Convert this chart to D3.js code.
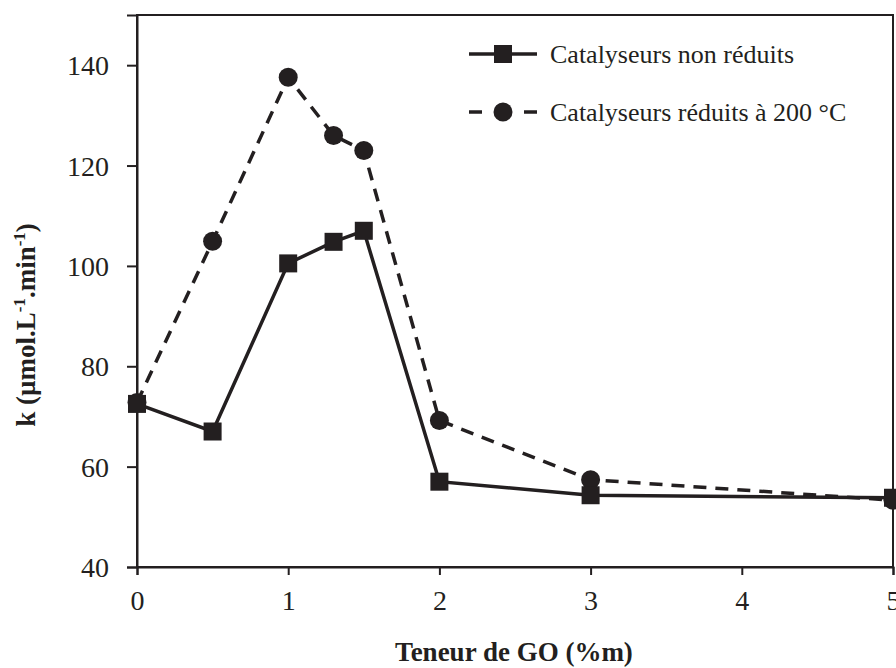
<!DOCTYPE html>
<html>
<head>
<meta charset="utf-8">
<script src="https://cdn.jsdelivr.net/npm/d3@7"></script>
<style>
  html, body { margin: 0; padding: 0; background: #fff; }
  svg { display: block; }
  text { font-family: "Liberation Serif", "Times New Roman", serif; fill: #231f20; }
</style>
</head>
<body>
<script>
// GO content (%m) and rate constants k (µmol.L-1.min-1)
const goContent = [0, 0.5, 1, 1.3, 1.5, 2, 3, 5];
const kNonReduced = [72.5, 67, 100.5, 104.8, 107, 57, 54.3, 53.8];
const kReduced200 = [72.8, 104.9, 137.6, 126, 123, 69.2, 57.4, 53.3];
const seriesNames = ["Catalyseurs non réduits", "Catalyseurs réduits à 200 °C"];
const xTicks = [0, 1, 2, 3, 4, 5];
const yTicks = [40, 60, 80, 100, 120, 140];

const W = 896, H = 668;
const ink = "#231f20";
const plot = { left: 137, right: 893, top: 15, bottom: 567 };

const svg = d3.select("body").append("svg").attr("width", W).attr("height", H);

const x = d3.scaleLinear().domain([0, 5]).range([plot.left, plot.right]);
const y = d3.scaleLinear().domain([40, 150]).range([plot.bottom, plot.top]);

// Frame around the plot area
svg.append("rect")
  .attr("x", plot.left).attr("y", plot.top)
  .attr("width", plot.right - plot.left).attr("height", plot.bottom - plot.top)
  .attr("fill", "none").attr("stroke", ink).attr("stroke-width", 2);

// Axes
const yAxis = svg.append("g")
  .attr("transform", `translate(${plot.left},0)`)
  .call(d3.axisLeft(y).tickValues(yTicks).tickFormat(d3.format("d")).tickSize(10).tickPadding(18));
const xAxis = svg.append("g")
  .attr("transform", `translate(0,${plot.bottom})`)
  .call(d3.axisBottom(x).tickValues(xTicks).tickFormat(d3.format("d")).tickSize(8).tickPadding(15));

[xAxis, yAxis].forEach(g => {
  g.select(".domain").attr("stroke", ink).attr("stroke-width", 2);
  g.selectAll(".tick line").attr("stroke", ink).attr("stroke-width", 2);
  g.selectAll(".tick text")
    .attr("fill", ink)
    .style("font-family", '"Liberation Serif", serif')
    .style("font-size", "28px");
});
yAxis.selectAll(".tick text").attr("dy", "0.34em");

// Axis titles
svg.append("text")
  .attr("x", 514).attr("y", 661)
  .attr("text-anchor", "middle")
  .style("font-size", "27px").style("font-weight", "bold")
  .text("Teneur de GO (%m)");

const yTitle = svg.append("text")
  .attr("transform", "translate(35,325) rotate(-90)")
  .attr("text-anchor", "middle")
  .style("font-size", "27px").style("font-weight", "bold");
yTitle.append("tspan").text("k (µmol.L");
yTitle.append("tspan").attr("dy", -10).style("font-size", "17px").text("-1");
yTitle.append("tspan").attr("dy", 10).text(".min");
yTitle.append("tspan").attr("dy", -10).style("font-size", "17px").text("-1");
yTitle.append("tspan").attr("dy", 10).text(")");

const line = d3.line().x(d => x(d[0])).y(d => y(d[1]));
const reducedPts = d3.zip(goContent, kReduced200);
const nonReducedPts = d3.zip(goContent, kNonReduced);

// Reduced catalysts: dashed line with circles
svg.append("path").datum(reducedPts)
  .attr("d", line).attr("fill", "none")
  .attr("stroke", ink).attr("stroke-width", 3.5)
  .attr("stroke-dasharray", "13,9");
svg.append("g").selectAll("circle").data(reducedPts).join("circle")
  .attr("cx", d => x(d[0])).attr("cy", d => y(d[1]))
  .attr("r", 9.5).attr("fill", ink);

// Non-reduced catalysts: solid line with squares
svg.append("path").datum(nonReducedPts)
  .attr("d", line).attr("fill", "none")
  .attr("stroke", ink).attr("stroke-width", 3.5);
const sq = 18;
svg.append("g").selectAll("rect").data(nonReducedPts).join("rect")
  .attr("x", d => x(d[0]) - sq / 2).attr("y", d => y(d[1]) - sq / 2)
  .attr("width", sq).attr("height", sq).attr("fill", ink);

// Legend
const legend = svg.append("g");
const lx0 = 469, lx1 = 537, lmid = 503, ltext = 550;
const rows = [54, 112];

legend.append("line")
  .attr("x1", lx0).attr("x2", lx1).attr("y1", rows[0]).attr("y2", rows[0])
  .attr("stroke", ink).attr("stroke-width", 3.5);
legend.append("rect")
  .attr("x", lmid - sq / 2).attr("y", rows[0] - sq / 2)
  .attr("width", sq).attr("height", sq).attr("fill", ink);

legend.append("line")
  .attr("x1", lx0).attr("x2", lx1).attr("y1", rows[1]).attr("y2", rows[1])
  .attr("stroke", ink).attr("stroke-width", 3.5)
  .attr("stroke-dasharray", "13,42");
legend.append("circle")
  .attr("cx", lmid).attr("cy", rows[1]).attr("r", 9.5).attr("fill", ink);

legend.selectAll("text.lab").data(seriesNames).join("text")
  .attr("class", "lab")
  .attr("x", ltext).attr("y", (d, i) => rows[i])
  .attr("dy", "0.33em")
  .style("font-size", "26px")
  .text(d => d);
</script>
</body>
</html>
